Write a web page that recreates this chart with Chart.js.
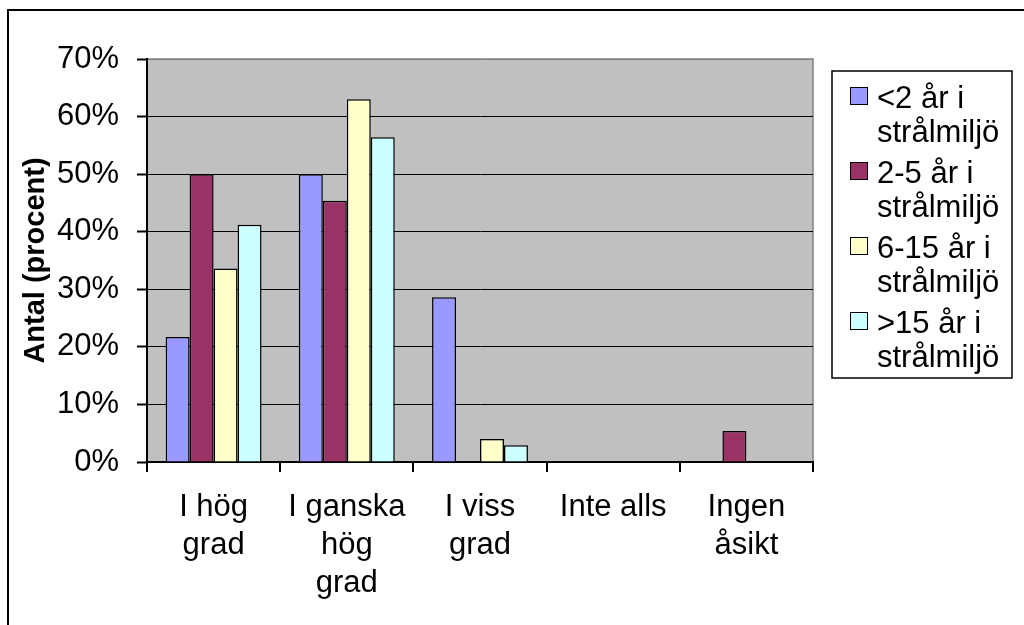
<!DOCTYPE html>
<html>
<head>
<meta charset="utf-8">
<script src="https://cdn.jsdelivr.net/npm/chart.js@4.4.0/dist/chart.umd.min.js"></script>
<style>
  body { margin: 0; background: #fff; }
  canvas { display: block; }
</style>
</head>
<body>
<canvas id="myChart" width="1024" height="625"></canvas>
<script>
// categories on the x axis (multi-line labels)
const categories = [
    ['I hög', 'grad'],
    ['I ganska', 'hög', 'grad'],
    ['I viss', 'grad'],
    'Inte alls',
    ['Ingen', 'åsikt']
];

// series, values in percent
const under2 = [21.7, 50.0, 28.6, 0, 0];
const from2to5 = [50.0, 45.4, 0, 0, 5.4];
const from6to15 = [33.6, 63.0, 4.0, 0, 0];
const over15 = [41.2, 56.4, 2.9, 0, 0];

const seriesLabels = [
    ['<2 år i', 'strålmiljö'],
    ['2-5 år i', 'strålmiljö'],
    ['6-15 år i', 'strålmiljö'],
    ['>15 år i', 'strålmiljö']
];
const seriesColors = ['#9999FF', '#993366', '#FFFFCC', '#CCFFFF'];

const yTicks = [0, 10, 20, 30, 40, 50, 60, 70];

const FONT = '"Liberation Sans", Arial, sans-serif';
Chart.defaults.font.family = FONT;
Chart.defaults.color = '#000';

// gray plot area + outer frame
const backdrop = {
    id: 'backdrop',
    beforeDraw(chart) {
        const { ctx, chartArea: a } = chart;
        ctx.save();
        ctx.fillStyle = '#fff';
        ctx.fillRect(0, 0, chart.width, chart.height);
        ctx.fillStyle = '#C0C0C0';
        ctx.fillRect(a.left, a.top, a.right - a.left, a.bottom - a.top);
        ctx.strokeStyle = '#808080';
        ctx.lineWidth = 1.5;
        ctx.beginPath();
        ctx.moveTo(a.left, a.top);
        ctx.lineTo(a.right, a.top);
        ctx.lineTo(a.right, a.bottom);
        ctx.stroke();
        // frame (only top and left are visible)
        ctx.strokeStyle = '#000';
        ctx.lineWidth = 2;
        ctx.beginPath();
        ctx.moveTo(8, chart.height);
        ctx.lineTo(8, 10);
        ctx.lineTo(chart.width, 10);
        ctx.stroke();
        ctx.restore();
    }
};

// boxed legend on the right, two lines per entry
const boxLegend = {
    id: 'boxLegend',
    afterDraw(chart) {
        const { ctx } = chart;
        const sets = chart.data.datasets;
        ctx.save();
        ctx.fillStyle = '#fff';
        ctx.fillRect(832, 71, 180, 307);
        ctx.strokeStyle = '#000';
        ctx.lineWidth = 1.5;
        ctx.strokeRect(832, 71, 180, 307);
        ctx.font = '31px ' + FONT;
        ctx.textBaseline = 'alphabetic';
        sets.forEach((ds, i) => {
            const base = 108 + i * 75;
            ctx.fillStyle = ds.backgroundColor;
            ctx.fillRect(850, base - 21, 18, 18);
            ctx.lineWidth = 1;
            ctx.strokeRect(850.5, base - 20.5, 17, 17);
            ctx.fillStyle = '#000';
            ds.legendLines.forEach((line, j) => {
                ctx.fillText(line, 877, base + j * 33.5);
            });
        });
        ctx.restore();
    }
};

const datasets = [under2, from2to5, from6to15, over15].map((values, i) => ({
    label: seriesLabels[i].join(' '),
    legendLines: seriesLabels[i],
    data: values,
    backgroundColor: seriesColors[i],
    borderColor: '#000',
    borderWidth: 1.5,
    categoryPercentage: 0.72,
    barPercentage: 1.0
}));

new Chart(document.getElementById('myChart'), {
    type: 'bar',
    data: { labels: categories, datasets: datasets },
    options: {
        responsive: false,
        animation: false,
        devicePixelRatio: 1,
        layout: { padding: { top: 59, right: 211, bottom: 0, left: 0 } },
        plugins: {
            legend: { display: false },
            tooltip: { enabled: false }
        },
        scales: {
            x: {
                afterFit: scale => { scale.height = 163; },
                grid: {
                    offset: true,
                    drawOnChartArea: false,
                    drawTicks: true,
                    tickLength: 10,
                    color: '#000',
                    lineWidth: 2
                },
                border: { display: true, color: '#000', width: 2 },
                ticks: {
                    color: '#000',
                    padding: 17,
                    maxRotation: 0,
                    autoSkip: false,
                    font: { size: 31, lineHeight: 1.22 }
                }
            },
            y: {
                min: 0,
                max: 70,
                afterFit: scale => { scale.width = 147; },
                afterBuildTicks: scale => { scale.ticks = yTicks.map(v => ({ value: v })); },
                grid: {
                    color: c => (c.tick && c.tick.value === 70 ? '#808080' : '#000'),
                    lineWidth: 1,
                    tickColor: '#000',
                    tickWidth: 2,
                    tickLength: 10
                },
                border: { display: true, color: '#000', width: 2 },
                ticks: {
                    color: '#000',
                    padding: 18,
                    font: { size: 31 },
                    callback: v => v + '%'
                },
                title: {
                    display: true,
                    text: 'Antal (procent)',
                    color: '#000',
                    font: { size: 29, weight: 'bold' },
                    padding: { top: 19, bottom: 0 }
                }
            }
        }
    },
    plugins: [backdrop, boxLegend]
});
</script>
</body>
</html>
